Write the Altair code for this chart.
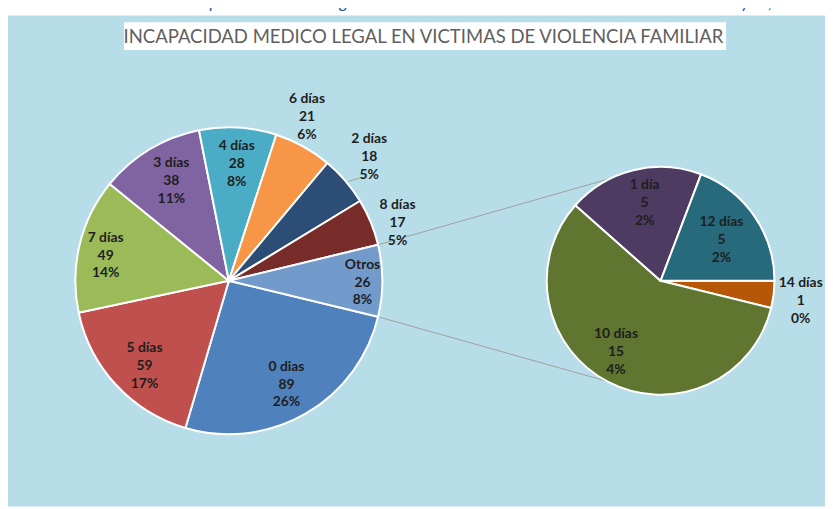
import math
import altair as alt
import pandas as pd

# ---- data ----
main_labels = ["0 dias", "5 días", "7 días", "3 días", "4 días", "6 días", "2 días", "8 días", "Otros"]
main_values = [89, 59, 49, 38, 28, 21, 18, 17, 26]
main_pcts = ["26%", "17%", "14%", "11%", "8%", "6%", "5%", "5%", "8%"]

sec_labels = ["14 días", "10 días", "1 día", "12 días"]
sec_values = [1, 15, 5, 5]
sec_pcts = ["0%", "4%", "2%", "2%"]

title_text = "INCAPACIDAD MEDICO LEGAL EN VICTIMAS DE VIOLENCIA FAMILIAR"
top_text = "Incapacidad Medico Legal de Victima de Violencia Familiar Provincia de Andahuaylas, 2015."

# ---- styles / layout ----
main_colors = ["#4F81BD", "#C0504D", "#9BBB59", "#8064A2", "#4BACC6",
               "#F79646", "#2C4D75", "#772C2A", "#729ACA"]
sec_colors = ["#B65708", "#5F7530", "#4D3B62", "#276A7C"]
# label placement: distance from the pie centre (px) and angular nudge (deg)
main_label_r = [120, 121, 127, 116, 118, 183, 189, 180, 135]
main_label_shift = [1, -2.5, -2, 1, 0.5, -3.4, -0.7, 3.6, 0.8]
sec_label_r = [143, 85, 80, 74]
sec_label_shift = [1.3, 4.3, 2.2, 0.7]

W, H = 825, 501
MX, MY, MR = 223, 273, 155
SX, SY, SR = 659, 273, 115
FONT = "Lato"
LH = 18

total = sum(main_values)
others = main_values[-1]
main_start = math.radians(90 + others / total * 180)
sec_start = math.radians(90)


def frame(labels, values, pcts, lr, shift, prefix):
    return pd.DataFrame({
        "key": [prefix + l for l in labels],
        "cat": labels,
        "v": values,
        "idx": list(range(len(labels))),
        "txt": [f"{l}\n{v}\n{p}" for l, v, p in zip(labels, values, pcts)],
        "lr": lr,
        "shift": shift,
    })


main_df = frame(main_labels, main_values, main_pcts, main_label_r, main_label_shift, "m")
sec_df = frame(sec_labels, sec_values, sec_pcts, sec_label_r, sec_label_shift, "s")

color_scale = alt.Scale(domain=list(main_df["key"]) + list(sec_df["key"]),
                        range=main_colors + sec_colors)


def pie(df, cx, cy, r, start):
    tot = float(df["v"].sum())
    sc = alt.Scale(domain=[0, tot], range=[start, start + 2 * math.pi], zero=True, nice=False)
    base = alt.Chart(df).transform_window(
        v1="sum(v)", sort=[alt.SortField("idx")], frame=[None, 0]
    ).transform_calculate(
        v0="datum.v1 - datum.v",
        mid=f"datum.v1 - datum.v / 2 + datum.shift * {tot} / 360",
    )
    arcs = base.mark_arc(radius=r, stroke="white", strokeWidth=2).encode(
        theta=alt.Theta("v0:Q", scale=sc, stack=None),
        theta2="v1:Q",
        color=alt.Color("key:N", scale=color_scale, legend=None),
        x=alt.value(cx), y=alt.value(cy),
    )
    texts = base.mark_text(font=FONT, fontSize=14, fontWeight="bold", color="#1E1E1E",
                           lineBreak="\n", lineHeight=LH, dy=-LH, align="center",
                           baseline="middle").encode(
        theta=alt.Theta("mid:Q", scale=sc, stack=None),
        radius=alt.Radius("lr:Q", scale=None),
        text="txt:N",
        x=alt.value(cx), y=alt.value(cy),
    )
    return arcs, texts


m_arcs, m_text = pie(main_df, MX, MY, MR, main_start)
s_arcs, s_text = pie(sec_df, SX, SY, SR, sec_start)

one = pd.DataFrame({"a": [0]})

panel = alt.Chart(one).mark_rect(color="#B7DDE8").encode(
    x=alt.value(0), x2=alt.value(W), y=alt.value(5), y2=alt.value(H))
title_box = alt.Chart(one).mark_rect(color="white").encode(
    x=alt.value(117), x2=alt.value(725), y=alt.value(12), y2=alt.value(40))
title = alt.Chart(one).mark_text(font=FONT, fontSize=18.7, color="#5F5F5F",
                                 align="center", baseline="middle").encode(
    x=alt.value(419.5), y=alt.value(26.5), text=alt.value(title_text))
top = alt.Chart(one).mark_text(font=FONT, fontSize=17, fontStyle="italic",
                               color="#2F5496", align="right",
                               baseline="alphabetic").encode(
    x=alt.value(819), y=alt.value(-2), text=alt.value(top_text))


def polar(cx, cy, r, deg):
    a = math.radians(deg)
    return cx + r * math.sin(a), cy - r * math.cos(a)


# connector lines from the "Otros" slice edges to the secondary pie
cum_before = sum(main_values[:-1])
a_top = math.degrees(main_start) + cum_before / total * 360 - 360
a_bot = math.degrees(main_start)
p1 = polar(MX, MY, MR, a_top)
p2 = polar(MX, MY, MR, a_bot)
q1 = polar(SX, SY, SR, 334)
q2 = polar(SX, SY, SR, 208)

# leader for "2 días"
i2 = main_labels.index("2 días")
mid2 = math.degrees(main_start) + (sum(main_values[:i2]) + main_values[i2] / 2) / total * 360
l1 = polar(MX, MY, MR + 2, mid2 + 1)
l2 = polar(MX, MY, MR + 13, mid2 + 2.5)

lines_df = pd.DataFrame({
    "x": [p1[0], p2[0], l1[0]], "y": [p1[1], p2[1], l1[1]],
    "x2": [q1[0], q2[0], l2[0]], "y2": [q1[1], q2[1], l2[1]],
})
lines = alt.Chart(lines_df).mark_rule(color="#A0A0A0", strokeWidth=1).encode(
    x=alt.X("x:Q", scale=None), y=alt.Y("y:Q", scale=None),
    x2="x2:Q", y2="y2:Q")

chart = alt.layer(
    panel, title_box, title, top, lines, m_arcs, s_arcs, m_text, s_text
).resolve_scale(theta="independent").properties(
    width=W, height=H, autosize=alt.AutoSizeParams(type="none"), padding=0,
    background="white",
).configure_view(stroke=None)

chart.save("out.html", embed_options={"renderer": "svg", "actions": False})
